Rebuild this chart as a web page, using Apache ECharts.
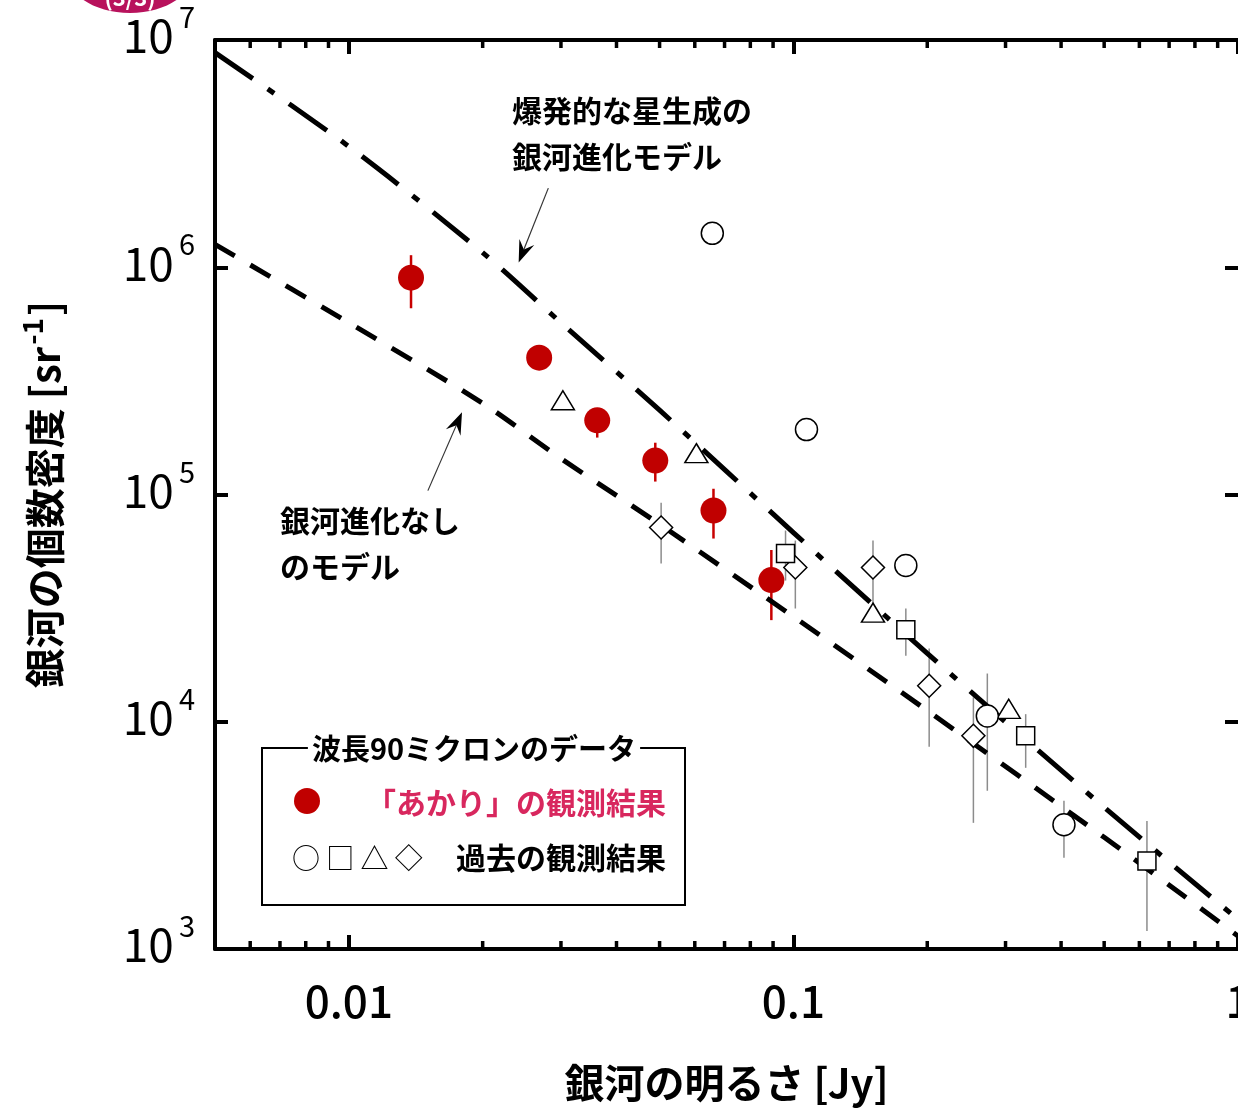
<!DOCTYPE html>
<html>
<head>
<meta charset="utf-8">
<script src="https://cdn.jsdelivr.net/npm/echarts@6/dist/echarts.min.js"></script>
<style>
  html, body { margin: 0; padding: 0; background: #fff; overflow: hidden; }
  #chart { width: 1238px; height: 1108px; }
</style>
</head>
<body>
<div id="chart"></div>
<script>
// model curves: flux [Jy] vs number density [sr^-1]
const modelX = [0.005, 0.01, 0.02, 0.03, 0.05, 0.1, 0.2, 0.5, 1];
const burstY = [8.8e6, 3.4e6, 1.16e6, 5.7e5, 2.35e5, 6.8e4, 2.0e4, 4.2e3, 1.35e3];
const noEvoY = [1.26e6, 5.7e5, 2.52e5, 1.44e5, 7.4e4, 2.9e4, 1.12e4, 3.1e3, 1.14e3];

// AKARI results
const akariX  = [0.0138, 0.0268, 0.0362, 0.0489, 0.0661, 0.0892];
const akariY  = [9.0e5, 4.0e5, 2.12e5, 1.41e5, 8.5e4, 4.2e4];
const akariLo = [6.6e5, 3.9e5, 1.78e5, 1.14e5, 6.4e4, 2.8e4];
const akariHi = [1.13e6, 4.1e5, 2.35e5, 1.69e5, 1.06e5, 5.7e4];

// past results (null = no error bar)
const circX  = [0.0657, 0.107, 0.179, 0.273, 0.406];
const circY  = [1.41e6, 1.93e5, 4.87e4, 1.06e4, 3.52e3];
const circLo = [null, null, null, 4.97e3, 2.52e3];
const circHi = [null, null, null, 1.63e4, 4.49e3];

const sqX  = [0.096, 0.179, 0.333, 0.624];
const sqY  = [5.5e4, 2.54e4, 8.67e3, 2.44e3];
const sqLo = [4.18e4, 1.95e4, 6.27e3, 1.2e3];
const sqHi = [6.94e4, 3.15e4, 1.08e4, 3.66e3];

const triX = [0.0303, 0.0605, 0.151, 0.305];
const triY = [2.6e5, 1.52e5, 3.02e4, 1.14e4];

const diaX  = [0.0504, 0.101, 0.151, 0.202, 0.254];
const diaY  = [7.16e4, 4.77e4, 4.77e4, 1.44e4, 8.67e3];
const diaLo = [4.97e4, 3.15e4, 3.31e4, 7.76e3, 3.59e3];
const diaHi = [9.2e4, 6.27e4, 6.27e4, 2.1e4, 1.28e4];

// minor tick values on the flux axis
const minorX = [0.006, 0.007, 0.008, 0.009,
  0.02, 0.03, 0.04, 0.05, 0.06, 0.07, 0.08, 0.09,
  0.2, 0.3, 0.4, 0.5, 0.6, 0.7, 0.8, 0.9];

// annotation arrows [fromX, fromY, toX, toY]
const arrowFromX = [0.0281, 0.01506];
const arrowFromY = [2.23e6, 1.04e5];
const arrowToX   = [0.0241, 0.01797];
const arrowToY   = [1.05e6, 2.3e5];

const FONT = "'Noto Sans CJK JP', sans-serif";
const chart = echarts.init(document.getElementById('chart'), null, { width: 1238, height: 1108 });

function pairs(xs, ys) { return xs.map((x, i) => [x, ys[i]]); }
function errData(xs, lo, hi) {
  const out = [];
  xs.forEach((x, i) => { if (lo[i] != null) out.push([x, lo[i], hi[i]]); });
  return out;
}
function errSeries(data, color, width) {
  return {
    type: 'custom', data: data, encode: { x: 0, y: [1, 2] }, z: 2, silent: true,
    renderItem: function (params, api) {
      const a = api.coord([api.value(0), api.value(1)]);
      const b = api.coord([api.value(0), api.value(2)]);
      return { type: 'line', shape: { x1: a[0], y1: a[1], x2: b[0], y2: b[1] },
        style: { stroke: color, lineWidth: width } };
    }
  };
}
function xLabel(v) {
  const e = Math.log10(v);
  if (Math.abs(e - Math.round(e)) > 1e-6) return '';
  const r = Math.round(e);
  return r < 0 ? Math.pow(10, r).toFixed(-r) : String(Math.pow(10, r));
}
function yLabel(v) {
  const e = Math.log10(v);
  if (Math.abs(e - Math.round(e)) > 1e-6) return '';
  return '{b|10}{e|' + Math.round(e) + '}';
}

const openStyle = { color: '#fff', borderColor: '#000', borderWidth: 1.5, opacity: 1 };

chart.setOption({
  animation: false,
  textStyle: { fontFamily: FONT },
  grid: { left: 215, top: 40, right: 0, bottom: 159, outerBoundsMode: 'none', containLabel: false },
  xAxis: [
    {
      type: 'log', min: 0.005, max: 1, position: 'bottom',
      axisLine: { lineStyle: { color: '#000', width: 4 } },
      axisTick: { inside: true, length: 14, lineStyle: { color: '#000', width: 4 } },
      splitLine: { show: false },
      axisLabel: { formatter: xLabel, color: '#000', fontSize: 44, fontWeight: 500, margin: 30, fontFamily: FONT },
      name: '銀河の明るさ [Jy]', nameLocation: 'middle', nameGap: 114,
      nameTextStyle: { fontSize: 40, fontWeight: 'bold', color: '#000', fontFamily: FONT }
    },
    {
      type: 'log', min: 0.005, max: 1, position: 'top',
      axisLine: { lineStyle: { color: '#000', width: 4 } },
      axisTick: { inside: true, length: 14, lineStyle: { color: '#000', width: 4 } },
      axisLabel: { show: false }, splitLine: { show: false }
    }
  ],
  yAxis: [
    {
      type: 'log', min: 1e3, max: 1e7, position: 'left',
      axisLine: { lineStyle: { color: '#000', width: 4 } },
      axisTick: { inside: true, length: 13, lineStyle: { color: '#000', width: 4 } },
      splitLine: { show: false },
      axisLabel: {
        formatter: yLabel, margin: 20, color: '#000',
        rich: {
          b: { fontSize: 46, color: '#000', fontFamily: FONT, padding: [0, 0, 8, 0] },
          e: { fontSize: 29, color: '#000', fontFamily: FONT, padding: [0, 0, 46, 5] }
        }
      },
      name: '{a|銀河の個数密度 [sr}{s|-1}{a|]}', nameLocation: 'middle', nameGap: 143,
      nameTextStyle: {
        rich: {
          a: { fontSize: 40, fontWeight: 'bold', color: '#000', fontFamily: FONT },
          s: { fontSize: 28, fontWeight: 'bold', color: '#000', fontFamily: FONT, padding: [0, 2, 26, 2] }
        }
      }
    },
    {
      type: 'log', min: 1e3, max: 1e7, position: 'right',
      axisLine: { show: false },
      axisTick: { inside: true, length: 13, lineStyle: { color: '#000', width: 4 } },
      axisLabel: { show: false }, splitLine: { show: false }
    }
  ],
  series: [
    // minor ticks, bottom and top
    {
      type: 'custom', data: minorX.map(v => [v, 1e3]), z: 10, silent: true, clip: false,
      renderItem: function (params, api) {
        const cs = params.coordSys;
        const x = api.coord([api.value(0), 1e3])[0];
        const st = { stroke: '#000', lineWidth: 3.5 };
        return { type: 'group', children: [
          { type: 'line', shape: { x1: x, y1: cs.y + cs.height, x2: x, y2: cs.y + cs.height - 8 }, style: st },
          { type: 'line', shape: { x1: x, y1: cs.y, x2: x, y2: cs.y + 8 }, style: st }
        ] };
      }
    },
    {
      name: 'burst', type: 'line', data: pairs(modelX, burstY), showSymbol: false, smooth: 0.3, z: 3,
      lineStyle: { color: '#000', width: 5, type: [46, 18, 8, 18] }
    },
    {
      name: 'noevo', type: 'line', data: pairs(modelX, noEvoY), showSymbol: false, smooth: 0.3, z: 3,
      lineStyle: { color: '#000', width: 5, type: [23, 18] }
    },
    // arrows
    {
      type: 'custom', z: 4, silent: true,
      data: arrowFromX.map((x, i) => [x, arrowFromY[i], arrowToX[i], arrowToY[i]]),
      encode: { x: [0, 2], y: [1, 3] },
      renderItem: function (params, api) {
        const a = api.coord([api.value(0), api.value(1)]);
        const b = api.coord([api.value(2), api.value(3)]);
        const dx = b[0] - a[0], dy = b[1] - a[1];
        const L = Math.sqrt(dx * dx + dy * dy);
        const ux = dx / L, uy = dy / L, nx = -uy, ny = ux;
        const back = [b[0] - ux * 22, b[1] - uy * 22];
        const notch = [b[0] - ux * 14, b[1] - uy * 14];
        return { type: 'group', children: [
          { type: 'line', shape: { x1: a[0], y1: a[1], x2: notch[0], y2: notch[1] }, style: { stroke: '#333', lineWidth: 1.2 } },
          { type: 'polygon', shape: { points: [b, [back[0] + nx * 8, back[1] + ny * 8], notch, [back[0] - nx * 8, back[1] - ny * 8]] },
            style: { fill: '#000' } }
        ] };
      }
    },
    errSeries(errData(circX, circLo, circHi), '#8c8c8c', 1.5),
    errSeries(errData(sqX, sqLo, sqHi), '#8c8c8c', 1.5),
    errSeries(errData(diaX, diaLo, diaHi), '#8c8c8c', 1.5),
    errSeries(errData(akariX, akariLo, akariHi), '#c80000', 2.5),
    { type: 'scatter', data: pairs(diaX, diaY), symbol: 'diamond', symbolSize: [23, 23], itemStyle: openStyle, z: 5 },
    { type: 'scatter', data: pairs(triX, triY), symbol: 'triangle', symbolSize: [23, 19], itemStyle: openStyle, z: 5 },
    { type: 'scatter', data: pairs(sqX, sqY), symbol: 'rect', symbolSize: 18, itemStyle: openStyle, z: 5 },
    { type: 'scatter', data: pairs(circX, circY), symbol: 'circle', symbolSize: 22, itemStyle: openStyle, z: 5 },
    { type: 'scatter', data: pairs(akariX, akariY), symbol: 'circle', symbolSize: 26, itemStyle: { color: '#c00000', opacity: 1 }, z: 6 }
  ],
  graphic: [
    { type: 'ellipse', shape: { cx: 130, cy: -27, rx: 63, ry: 40 }, style: { fill: '#b8125c' } },
    { type: 'text', x: 130, y: 9, style: { text: '(3/3)', fill: '#fff', font: 'bold 22px ' + FONT, textAlign: 'center', textVerticalAlign: 'bottom' } },
    { type: 'text', x: 512, y: 111, style: { text: '爆発的な星生成の', fill: '#000', font: 'bold 30px ' + FONT, textVerticalAlign: 'middle' } },
    { type: 'text', x: 512, y: 157, style: { text: '銀河進化モデル', fill: '#000', font: 'bold 30px ' + FONT, textVerticalAlign: 'middle' } },
    { type: 'text', x: 280, y: 521, style: { text: '銀河進化なし', fill: '#000', font: 'bold 30px ' + FONT, textVerticalAlign: 'middle' } },
    { type: 'text', x: 280, y: 567, style: { text: 'のモデル', fill: '#000', font: 'bold 30px ' + FONT, textVerticalAlign: 'middle' } },
    // legend box
    { type: 'rect', shape: { x: 262, y: 748, width: 423, height: 157 }, style: { fill: 'none', stroke: '#000', lineWidth: 2 }, z: 20 },
    { type: 'text', x: 474, y: 749, z: 21, style: { text: '波長90ミクロンのデータ', fill: '#000', font: 'bold 29px ' + FONT,
        textAlign: 'center', textVerticalAlign: 'middle', backgroundColor: '#fff', padding: [0, 4] } },
    { type: 'circle', shape: { cx: 307, cy: 801, r: 13 }, style: { fill: '#c00000' }, z: 21 },
    { type: 'text', x: 666, y: 803, z: 21, style: { text: '「あかり」の観測結果', fill: '#d8275e', font: 'bold 30px ' + FONT,
        textAlign: 'right', textVerticalAlign: 'middle' } },
    { type: 'text', x: 292, y: 858, z: 21, style: { text: '○ □ △ ◇', fill: '#000', font: '28px ' + FONT,
        textVerticalAlign: 'middle' } },
    { type: 'text', x: 666, y: 858, z: 21, style: { text: '過去の観測結果', fill: '#000', font: 'bold 30px ' + FONT,
        textAlign: 'right', textVerticalAlign: 'middle' } }
  ]
});
</script>
</body>
</html>
